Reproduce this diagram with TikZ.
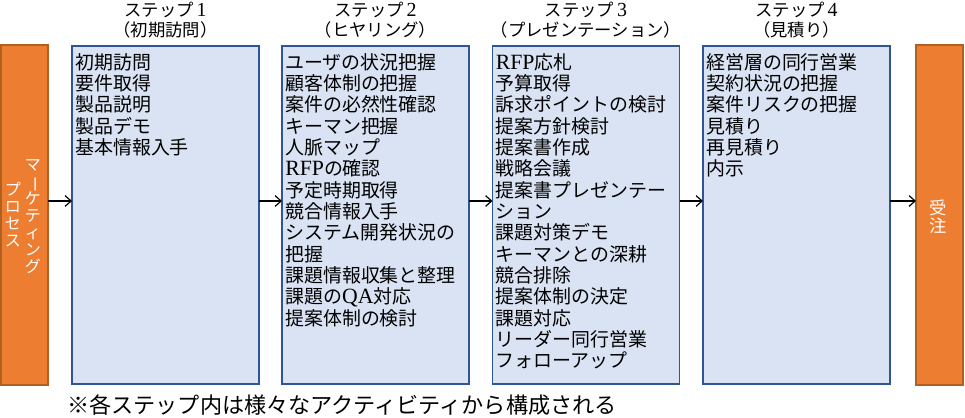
\documentclass[tikz,border=0pt]{standalone}
\usepackage{fontspec}
\usepackage{graphicx}
\setmainfont{Noto Sans CJK JP}
\newfontfamily\latin[Scale=1.15]{Liberation Serif}
\usetikzlibrary{arrows.meta}
\definecolor{org}{HTML}{ED7D31}
\definecolor{orgb}{HTML}{B0601F}
\definecolor{bfill}{HTML}{DAE3F3}
\definecolor{bline}{HTML}{2F5597}
\newcommand{\vbar}{\rotatebox[origin=c]{-90}{ー}}
\newcommand{\vcol}[2]{\vbox{\baselineskip=#1\lineskiplimit=-50pt\lineskip=0pt\halign{\hfil##\hfil\cr#2\crcr}}}
\begin{document}
\begin{tikzpicture}[x=0.75pt,y=-0.75pt,
  stepbox/.style={draw=bline,fill=bfill,line width=1.1pt,minimum width=140.25pt,minimum height=253.5pt,inner sep=0pt,outer sep=0pt},
  orgbar/.style={draw=orgb,fill=org,line width=1.1pt,minimum width=35.25pt,minimum height=255pt,inner sep=0pt,outer sep=0pt},
  items/.style={anchor=north west,inner sep=0pt,align=left,font=\fontsize{14.2pt}{16pt}\selectfont},
  ttl/.style={align=center,inner sep=0pt,font=\fontsize{13pt}{15pt}\selectfont},
  vtext/.style={inner sep=0pt,text=white,font=\fontsize{12pt}{12.75pt}\selectfont},
  arr/.style={line width=0.9pt,-{Straight Barb[length=4.5pt,width=8pt,line width=0.9pt]}}
]
\useasboundingbox (0,0) rectangle (965,418);
% orange bars
\node[orgbar] (mk) at (24.5,215) {};
\node[orgbar] (ord) at (939.5,215) {};
% step boxes
\node[stepbox] (s1) at (165.5,215) {};
\node[stepbox] (s2) at (375.5,215) {};
\node[stepbox] (s3) at (586,215) {};
\node[stepbox] (s4) at (796.5,215) {};
% titles
\node[ttl] (t1) at (165.5,20) {ステップ\,{\latin 1}\\（初期訪問）};
\node[ttl] (t2) at (375.5,20) {ステップ\,{\latin 2}\\（ヒヤリング）};
\node[ttl] (t3) at (586,20) {ステップ\,{\latin 3}\\（プレゼンテーション）};
\node[ttl] (t4) at (796.5,20) {ステップ\,{\latin 4}\\（見積り）};
% item lists
\node[items] (i1) at ([shift={(3,7)}]s1.north west) {初期訪問\\要件取得\\製品説明\\製品デモ\\基本情報入手};
\node[items] (i2) at ([shift={(3,7)}]s2.north west) {ユーザの状況把握\\顧客体制の把握\\案件の必然性確認\\キーマン把握\\人脈マップ\\{\latin RFP}の確認\\予定時期取得\\競合情報入手\\システム開発状況の\\把握\\課題情報収集と整理\\課題の{\latin QA}対応\\提案体制の検討};
\node[items] (i3) at ([shift={(3,7)}]s3.north west) {{\latin RFP}応札\\予算取得\\訴求ポイントの検討\\提案方針検討\\提案書作成\\戦略会議\\提案書プレゼンテー\\ション\\課題対策デモ\\キーマンとの深耕\\競合排除\\提案体制の決定\\課題対応\\リーダー同行営業\\フォローアップ};
\node[items] (i4) at ([shift={(3,7)}]s4.north west) {経営層の同行営業\\契約状況の把握\\案件リスクの把握\\見積り\\再見積り\\内示};
% vertical labels
\node[vtext] (mk1) at (33,217) {\vcol{12.75pt}{マ\cr\vbar\cr ケ\cr テ\cr ィ\cr ン\cr グ}};
\node[vtext] (mk2) at (13,215) {\vcol{12.75pt}{プ\cr ロ\cr セ\cr ス}};
\node[vtext,font=\fontsize{13pt}{13.5pt}\selectfont] (ordt) at (938,217) {\vcol{13.5pt}{受\cr 注}};
% arrows
\draw[arr] ([yshift=10.5pt]mk.east) -- ([yshift=10.5pt]s1.west);
\draw[arr] ([yshift=10.5pt]s1.east) -- ([yshift=10.5pt]s2.west);
\draw[arr] ([yshift=10.5pt]s2.east) -- ([yshift=10.5pt]s3.west);
\draw[arr] ([yshift=10.5pt]s3.east) -- ([yshift=10.5pt]s4.west);
\draw[arr] ([yshift=10.5pt]s4.east) -- ([yshift=10.5pt]ord.west);
% footnote
\node[inner sep=0pt,font=\fontsize{16.6pt}{18pt}\selectfont] (note) at (342,405) {※各ステップ内は様々なアクティビティから構成される};
\end{tikzpicture}
\end{document}
